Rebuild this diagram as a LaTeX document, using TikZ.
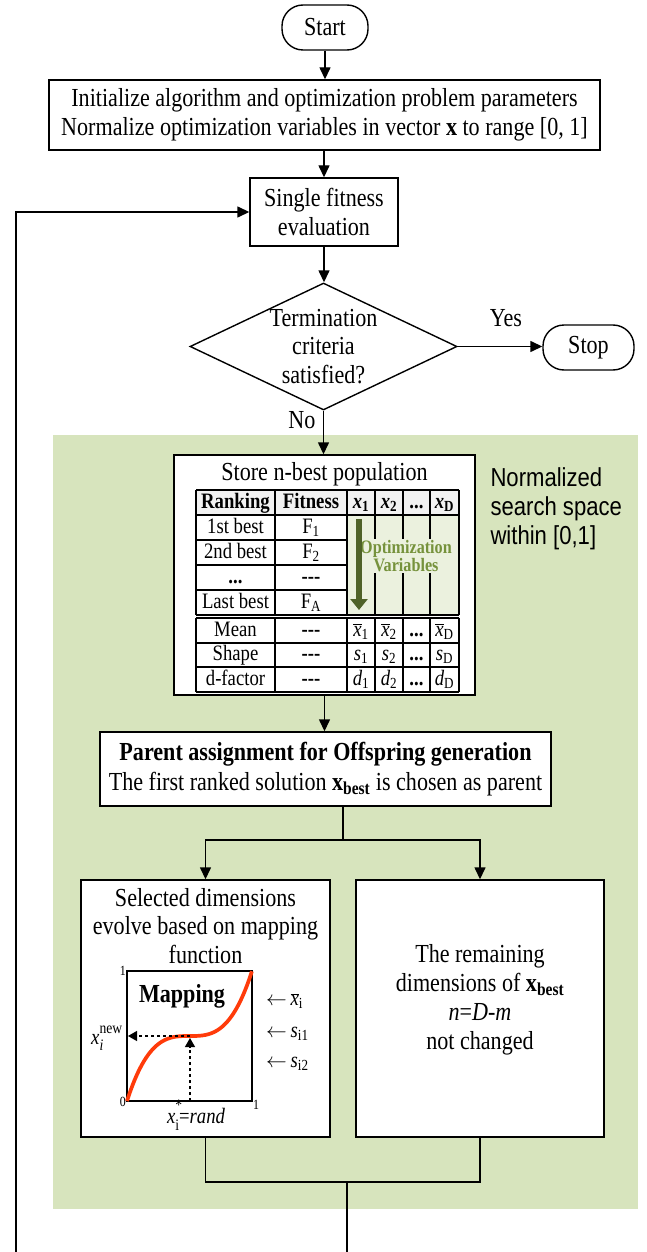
\documentclass[tikz,border=0pt]{standalone}
\usepackage{fontspec}
\setmainfont[FakeStretch=0.85]{Liberation Serif}
\newfontfamily\sansx[FakeStretch=0.85]{Liberation Sans}
\usetikzlibrary{arrows.meta,shapes.geometric}
\definecolor{bggreen}{HTML}{D7E4BD}
\definecolor{lightgreen}{HTML}{EBF1DE}
\definecolor{darkolive}{HTML}{4F6228}
\definecolor{olivetext}{HTML}{76923C}
\definecolor{hdrgray}{HTML}{F2F2F2}
\definecolor{curvered}{HTML}{FF3B0A}
\newcommand\xbr[1]{$\overline{\hbox{\textit{x}}}$\textsubscript{#1}}
\newcommand\hx[1]{\textbf{\textit{x}\textsubscript{#1}}}
\newcommand\tdash{\textbf{-{}-{}-}}
\newcommand\larr{{\fontsize{22}{22}\selectfont$\leftarrow$}}
\newcommand\scr[1]{{\fontsize{16}{16}\selectfont #1}}
\begin{document}
\begin{tikzpicture}[x=1pt,y=-1pt,
  box/.style={draw, line width=1.4pt, fill=white, inner sep=0pt},
  term/.style={box, rounded corners=21pt},
  txt/.style={font=\fontsize{26}{28.5}\selectfont, align=center},
  tbl/.style={font=\fontsize{22}{24}\selectfont, inner sep=0pt, text height=15pt, text depth=4pt},
  grid/.style={line width=1.1pt},
  conn/.style={line width=1.4pt},
  arr/.style={conn, -{Triangle[length=12pt,width=11pt]}},
  small/.style={font=\fontsize{22}{22}\selectfont, inner sep=0pt},
]
\useasboundingbox (0,0) rectangle (646,1252);
% green background
\fill[bggreen] (53,435) rectangle (638,1209);

% top flow
\node[term, txt, minimum width=86pt, minimum height=45pt] (start) at (325,27.5) {Start};
\node[box, txt, minimum width=551pt, minimum height=70pt] (init) at (324.5,115)
  {Initialize algorithm and optimization problem parameters\\Normalize optimization variables in vector \textbf{x} to range [0, 1]};
\node[box, txt, minimum width=148pt, minimum height=68pt] (fit) at (324,212) {Single fitness\\evaluation};
\node[diamond, draw, line width=1.4pt, minimum width=267pt, minimum height=127pt, inner sep=0pt] (dec) at (323.5,346.5) {};
\node[txt] (dectext) at (dec) {Termination\\criteria\\satisfied?};
\node[term, txt, minimum width=91pt, minimum height=45pt] (stop) at (588.5,347.5) {Stop};
\node[txt] (yes) at (506,318) {Yes};
\node[txt] (no) at (302,420) {No};

% table box
\node[box, minimum width=301pt, minimum height=240pt] (table) at (324.5,575) {};
\node[txt] (tabtitle) at (324.5,474) {Store n-best population};
\node[anchor=west, align=left, font=\sansx\fontsize{26}{29}\selectfont] (norm) at (487,509) {Normalized\\search space\\within [0,1]};

% table grid
\fill[hdrgray] (196,490) rectangle (459,515);
\fill[lightgreen] (347,515) rectangle (459,615);
\foreach \yy in {490,515,615,618,643,667,692} \draw[grid] (196,\yy) -- (459,\yy);
\foreach \yy in {540,565,590} \draw[grid] (196,\yy) -- (347,\yy);
\foreach \xx in {196,275,347,459} {\draw[grid] (\xx,490) -- (\xx,615); \draw[grid] (\xx,618) -- (\xx,692);}
\foreach \xx in {375,403,430} {\draw[grid] (\xx,490) -- (\xx,615); \draw[grid] (\xx,618) -- (\xx,692);}
\node[font=\bfseries\fontsize{19}{18}\selectfont, text=olivetext, fill=lightgreen, align=center, inner sep=1.5pt] (optvar) at (406,556) {Optimization\\Variables};
\draw[darkolive, line width=6pt, -{Triangle[length=11pt,width=17pt]}] (359,519) -- (359,610);

% table texts
\node[tbl] (h1) at (235.5,502.5) {\textbf{Ranking}};
\node[tbl] (h2) at (311,502.5) {\textbf{Fitness}};
\node[tbl] (h3) at (361,502.5) {\hx{1}};
\node[tbl] (h4) at (389,502.5) {\hx{2}};
\node[tbl] (h5) at (416.5,502.5) {\textbf{...}};
\node[tbl] (h6) at (444.5,502.5) {\hx{D}};
\node[tbl] (r1a) at (235.5,527.5) {1st best};
\node[tbl] (r1b) at (311,527.5) {F\textsubscript{1}};
\node[tbl] (r2a) at (235.5,552.5) {2nd best};
\node[tbl] (r2b) at (311,552.5) {F\textsubscript{2}};
\node[tbl] (r3a) at (235.5,577.5) {\textbf{...}};
\node[tbl] (r3b) at (311,577.5) {\tdash};
\node[tbl] (r4a) at (235.5,602.5) {Last best};
\node[tbl] (r4b) at (311,602.5) {F\textsubscript{A}};
\node[tbl] (m1) at (235.5,630.5) {Mean};
\node[tbl] (m2) at (311,630.5) {\tdash};
\node[tbl] (m3) at (361,630.5) {\xbr{1}};
\node[tbl] (m4) at (389,630.5) {\xbr{2}};
\node[tbl] (m5) at (416.5,630.5) {\textbf{...}};
\node[tbl] (m6) at (444.5,630.5) {\xbr{D}};
\node[tbl] (s1) at (235.5,655) {Shape};
\node[tbl] (s2) at (311,655) {\tdash};
\node[tbl] (s3) at (361,655) {\textit{s}\textsubscript{1}};
\node[tbl] (s4) at (389,655) {\textit{s}\textsubscript{2}};
\node[tbl] (s5) at (416.5,655) {\textbf{...}};
\node[tbl] (s6) at (444.5,655) {\textit{s}\textsubscript{D}};
\node[tbl] (d1) at (235.5,679.5) {d-factor};
\node[tbl] (d2) at (311,679.5) {\tdash};
\node[tbl] (d3) at (361,679.5) {\textit{d}\textsubscript{1}};
\node[tbl] (d4) at (389,679.5) {\textit{d}\textsubscript{2}};
\node[tbl] (d5) at (416.5,679.5) {\textbf{...}};
\node[tbl] (d6) at (444.5,679.5) {\textit{d}\textsubscript{D}};

% parent
\node[box, font=\fontsize{26}{30}\selectfont, align=center, minimum width=451pt, minimum height=74pt] (parent) at (325.5,769)
  {\textbf{Parent assignment for Offspring generation}\\The first ranked solution \textbf{x}\textsubscript{\textbf{best}} is chosen as parent};

% lower boxes
\node[box, minimum width=249pt, minimum height=257pt] (sel) at (205.5,1008.5) {};
\node[txt] (seltext) at (205.5,926) {Selected dimensions\\evolve based on mapping\\function};
\node[box, minimum width=248pt, minimum height=257pt] (rem) at (480,1008.5) {};
\node[font=\fontsize{26}{29}\selectfont, align=center] (remtext) at (480,1000)
  {The remaining\\dimensions of \textbf{x}\textsubscript{\textbf{best}}\\\textit{n}=\textit{D}-\textit{m}\\not changed};

% mapping plot
\draw[line width=1.5pt] (127,971) rectangle (252,1101);
\draw[curvered, line width=3.7pt, domain=0:1, samples=80, variable=\t]
  plot ({127+125*\t},{1101-130*(0.5+4*(\t-0.5)*(\t-0.5)*(\t-0.5))});
\coordinate (xstar) at (190,1101);
\coordinate (mid) at (190,1036);
\coordinate (midb) at (190,1038);
\coordinate (xnewc) at (128,1036);
\draw[dashed, line width=1.2pt, -{Triangle[length=9pt,width=10pt]}] (xstar) -- (midb);
\draw[dashed, line width=1.2pt, -{Triangle[length=9pt,width=10pt]}] (mid) -- (xnewc);
\node[anchor=east, font=\fontsize{14}{14}\selectfont, inner sep=1pt] (one1) at (127,971) {1};
\node[anchor=east, font=\fontsize{14}{14}\selectfont, inner sep=1pt] (zero) at (127,1102) {0};
\node[anchor=west, font=\fontsize{14}{14}\selectfont, inner sep=1pt] (one2) at (252,1105) {1};
\node[font=\bfseries\fontsize{26}{26}\selectfont] (maplbl) at (182,996) {Mapping};
\node[small, anchor=base west] (xnew) at (91,1044)
  {\textit{x}\rlap{\raisebox{11pt}{\scr{new}}}\raisebox{-6pt}{\scr{\textit{i}}}};
\node[small, anchor=base] (xrand) at (196,1123)
  {\textit{x}\rlap{\raisebox{13pt}{\scr{*}}}\raisebox{-7pt}{\scr{i}}=\textit{rand}};
\node[small, anchor=west] (lab1) at (266,1001) {\larr\,\xbr{i}};
\node[small, anchor=west] (lab2) at (266,1034) {\larr\,\textit{s}\textsubscript{i1}};
\node[small, anchor=west] (lab3) at (266,1064) {\larr\,\textit{s}\textsubscript{i2}};

% connectors
\draw[arr] (start.south) -- (start.south |- init.north);
\draw[arr] (init.south -| fit.north) -- (fit.north);
\draw[arr] (fit.south) -- (fit.south |- dec.north);
\draw[arr] (dec.east) -- (dec.east -| stop.west);
\draw[arr] (dec.south) -- (dec.south |- table.north);
\draw[arr] (table.south) -- (table.south |- parent.north);
\coordinate (split) at (343,840);
\draw[conn] (parent.south -| split) -- (split);
\draw[arr] (split) -| (sel.north);
\draw[arr] (split) -| (rem.north);
\coordinate (join) at (347,1182);
\draw[conn] (sel.south) |- (join) -| (rem.south);
\coordinate (exit) at (347,1252);
\draw[conn] (join) -- (exit);
\coordinate (loopstart) at (16,1252);
\draw[arr] (loopstart) |- (fit.west);
\end{tikzpicture}
\end{document}
